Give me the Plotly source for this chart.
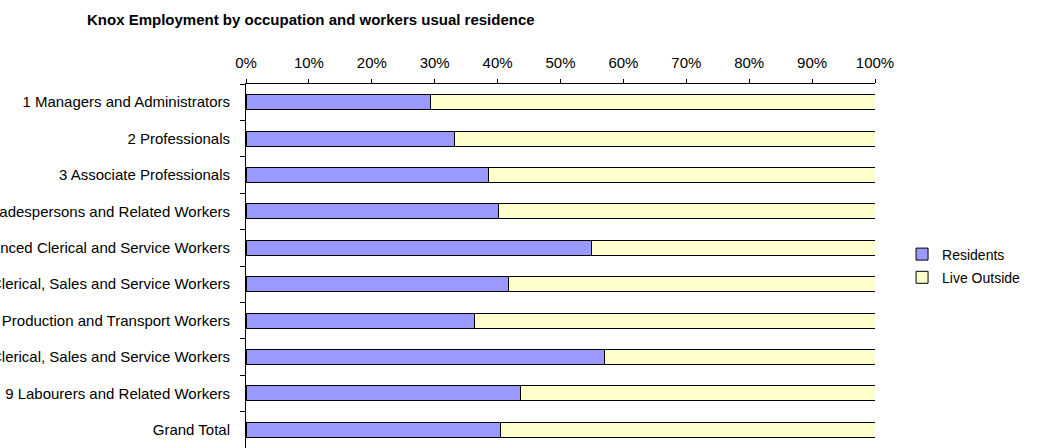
import plotly.graph_objects as go

categories = [
    "1 Managers and Administrators",
    "2 Professionals",
    "3 Associate Professionals",
    "4 Tradespersons and Related Workers",
    "5 Advanced Clerical and Service Workers",
    "6 Intermediate Clerical, Sales and Service Workers",
    "7 Intermediate Production and Transport Workers",
    "8 Elementary Clerical, Sales and Service Workers",
    "9 Labourers and Related Workers",
    "Grand Total",
]
residents = [29.3, 33.1, 38.5, 40.1, 54.9, 41.7, 36.3, 57.0, 43.6, 40.5]
live_outside = [70.7, 66.9, 61.5, 59.9, 45.1, 58.3, 63.7, 43.0, 56.4, 59.5]
x_ticks = [0, 10, 20, 30, 40, 50, 60, 70, 80, 90, 100]
x_tick_labels = ["0%", "10%", "20%", "30%", "40%", "50%",
                 "60%", "70%", "80%", "90%", "100%"]

FONT = "Liberation Sans, Arial, sans-serif"
BAR_LINE = {"color": "#000000", "width": 1}

fig = go.Figure()
fig.add_trace(go.Bar(
    y=categories, x=residents, orientation="h", name="Residents",
    legendgroup="a",
    marker={"color": "#9999FF", "line": BAR_LINE},
))
fig.add_trace(go.Bar(
    y=categories, x=live_outside, orientation="h", name="Live Outside",
    legendgroup="b",
    marker={"color": "#FFFFCC", "line": BAR_LINE},
))

fig.update_layout(
    width=1041, height=448,
    barmode="stack", bargap=0.59,
    margin={"l": 246, "r": 166, "t": 84, "b": 0},
    plot_bgcolor="#ffffff", paper_bgcolor="#ffffff",
    font={"family": FONT, "size": 15, "color": "#000000"},
    title={
        "text": "<b>Knox Employment by occupation and workers usual residence</b>",
        "x": 87 / 1041, "xanchor": "left", "y": 1 - 20 / 448, "yanchor": "middle",
        "font": {"family": FONT, "size": 15, "color": "#000000"},
    },
    legend={
        "x": 1.043, "xanchor": "left", "y": 0.5, "yanchor": "middle",
        "traceorder": "grouped", "tracegroupgap": 2,
        "font": {"family": FONT, "size": 14},
        "bgcolor": "rgba(0,0,0,0)",
    },
    xaxis={
        "side": "top", "range": [0, 100],
        "tickmode": "array", "tickvals": x_ticks, "ticktext": x_tick_labels,
        "showgrid": False, "zeroline": False,
        "showline": True, "linecolor": "#000000", "linewidth": 1,
        "ticks": "outside", "ticklen": 4, "tickcolor": "#000000",
        "ticklabelstandoff": 5, "fixedrange": True,
    },
    yaxis={
        "autorange": "reversed", "automargin": False,
        "showgrid": False, "zeroline": False,
        "showline": True, "linecolor": "#000000", "linewidth": 1,
        "ticks": "outside", "ticklen": 5, "tickcolor": "#000000",
        "tickson": "boundaries", "ticklabelstandoff": 12, "fixedrange": True,
    },
)

# the page body has an 8px default margin; drop it so the chart sits at (0, 0)
fig.write_html(
    "out.html",
    config={"displayModeBar": False},
    post_script="document.body.style.margin='0';",
)
